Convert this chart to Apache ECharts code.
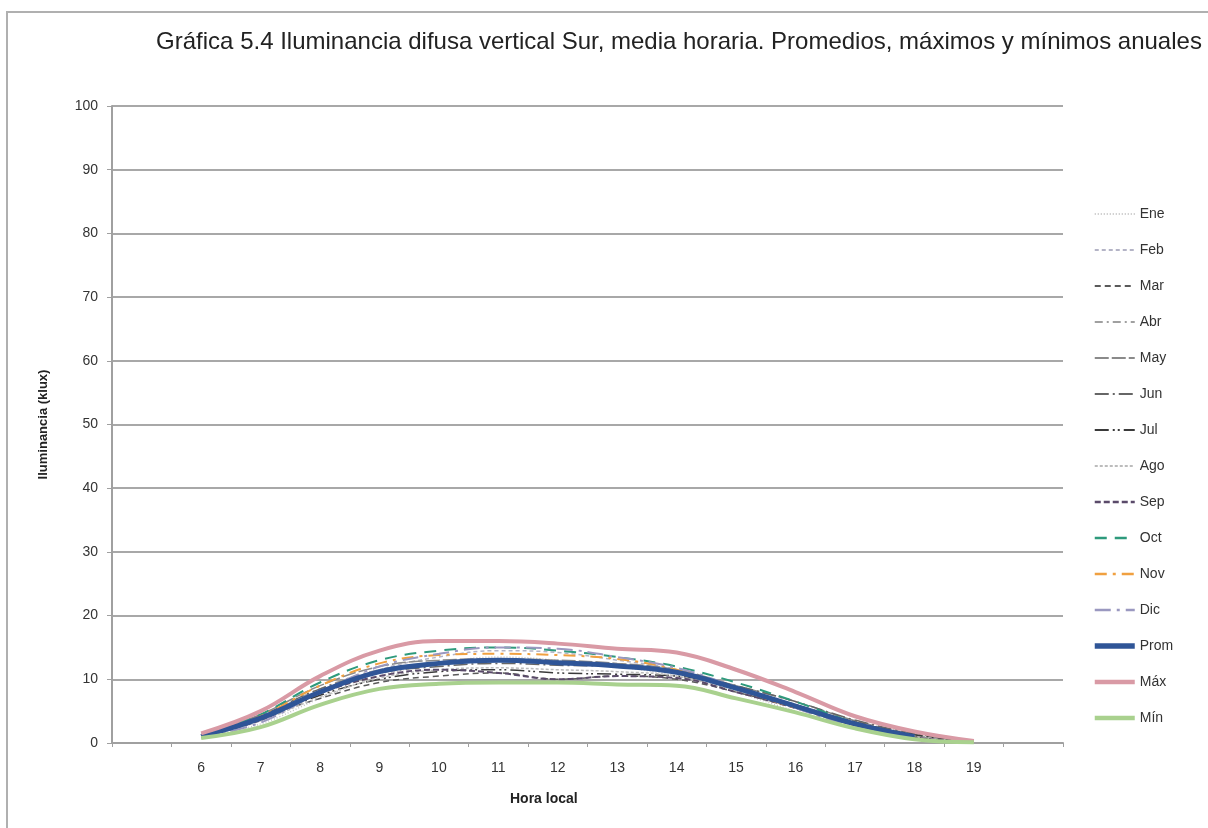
<!DOCTYPE html>
<html>
<head>
<meta charset="utf-8">
<script src="https://cdn.jsdelivr.net/npm/echarts@6/dist/echarts.min.js"></script>
<style>
  html, body { margin: 0; padding: 0; background: #fff; }
  #chart { width: 1208px; height: 828px; }
</style>
</head>
<body>
<div id="chart"></div>
<script>
// hours, with an empty slot on each side like the original axis
const hours = ['', '6', '7', '8', '9', '10', '11', '12', '13', '14', '15', '16', '17', '18', '19', ''];

// values for hours 6..19 (klux)
const ene = [0.9, 3.0, 7.0, 10.5, 12.5, 13.5, 13.0, 12.0, 10.5, 8.0, 5.0, 2.5, 0.8, null];
const feb = [1.0, 3.5, 8.0, 11.5, 13.5, 14.5, 14.2, 13.0, 11.5, 8.5, 5.5, 2.8, 0.9, null];
const mar = [1.1, 4.0, 7.0, 9.5, 10.5, 11.0, 10.0, 10.5, 10.0, 8.0, 5.5, 3.0, 1.0, 0.2];
const abr = [1.2, 4.2, 8.5, 11.5, 12.5, 13.0, 12.5, 12.0, 11.2, 8.8, 6.0, 3.2, 1.2, 0.2];
const may = [1.3, 4.5, 9.0, 12.0, 13.0, 13.2, 13.0, 12.5, 11.5, 9.0, 6.5, 3.5, 1.4, 0.3];
const jun = [1.2, 4.3, 8.5, 11.0, 12.0, 12.5, 12.2, 12.0, 11.2, 9.0, 6.5, 3.6, 1.5, 0.3];
const jul = [1.0, 3.8, 7.5, 10.0, 11.2, 11.5, 11.0, 10.8, 10.5, 8.5, 6.0, 3.3, 1.3, 0.2];
const ago = [1.0, 3.5, 7.2, 10.2, 11.5, 11.8, 11.5, 11.2, 10.5, 8.2, 5.8, 3.0, 1.0, 0.1];
const sep = [1.0, 3.6, 7.8, 10.5, 11.5, 11.0, 10.0, 10.5, 10.2, 8.0, 5.5, 2.8, 0.9, 0.1];
const oct = [1.1, 4.5, 9.5, 13.0, 14.5, 15.0, 14.5, 13.5, 12.0, 9.5, 6.5, 3.2, 1.0, null];
const nov = [1.0, 4.2, 9.0, 12.5, 13.8, 14.0, 13.8, 13.2, 11.5, 8.5, 5.5, 2.8, 0.8, null];
const dic = [0.9, 3.2, 8.0, 12.0, 14.0, 15.0, 14.8, 13.5, 11.8, 8.8, 5.5, 2.5, 0.7, null];
const prom = [1.05, 3.9, 8.0, 11.2, 12.5, 13.0, 12.6, 12.1, 11.1, 8.6, 5.8, 3.0, 1.0, null];
const max = [1.5, 5.0, 10.5, 14.5, 16.0, 16.0, 15.6, 14.8, 14.2, 11.5, 8.0, 4.2, 1.8, 0.3];
const min = [0.8, 2.5, 6.0, 8.5, 9.3, 9.5, 9.5, 9.2, 9.0, 7.0, 4.8, 2.3, 0.6, 0.1];

const pad = (arr) => [null, ...arr, null];

const lines = [
  { name: 'Ene', data: ene, color: '#c4c4c4', width: 1.5, type: [1, 2] },
  { name: 'Feb', data: feb, color: '#b4b4c6', width: 1.5, type: [4, 3] },
  { name: 'Mar', data: mar, color: '#5a5a5a', width: 1.5, type: [6, 4] },
  { name: 'Abr', data: abr, color: '#a0a0a0', width: 1.5, type: [8, 4, 2, 4] },
  { name: 'May', data: may, color: '#8a8a8a', width: 1.5, type: [14, 3] },
  { name: 'Jun', data: jun, color: '#666666', width: 1.5, type: [14, 4, 2, 4] },
  { name: 'Jul', data: jul, color: '#3a3a3a', width: 1.5, type: [14, 4, 2, 3, 2, 4] },
  { name: 'Ago', data: ago, color: '#bcbcbc', width: 1.5, type: [3, 2] },
  { name: 'Sep', data: sep, color: '#5a4a6a', width: 2, type: [6, 3] },
  { name: 'Oct', data: oct, color: '#2e9a7c', width: 2, type: [12, 8] },
  { name: 'Nov', data: nov, color: '#f0a040', width: 2, type: [12, 6, 3, 6] },
  { name: 'Dic', data: dic, color: '#9a98c0', width: 2, type: [16, 6, 3, 6] },
  { name: 'Prom', data: prom, color: '#2f5597', width: 5, type: 'solid' },
  { name: 'Máx', data: max, color: '#d99aa5', width: 4, type: 'solid' },
  { name: 'Mín', data: min, color: '#a9d18e', width: 4, type: 'solid' },
];

const chart = echarts.init(document.getElementById('chart'));

const opts = {
  backgroundColor: '#fff',
  animation: false,
  textStyle: { fontFamily: 'Liberation Sans, Arial, sans-serif' },
  title: {
    text: 'Gráfica 5.4 Iluminancia difusa vertical Sur, media horaria. Promedios, máximos y mínimos anuales',
    left: 674,
    top: 25,
    textAlign: 'center',
    textStyle: {
      fontFamily: 'Liberation Sans, Arial, sans-serif',
      fontSize: 24,
      fontWeight: 'normal',
      color: '#222',
    },
  },
  graphic: [
    {
      type: 'rect',
      shape: { x: 7, y: 12, width: 1230, height: 840 },
      style: { fill: 'none', stroke: '#b0b0b0', lineWidth: 2 },
      silent: true,
    },
    {
      type: 'text',
      left: 510,
      top: 792,
      style: { text: 'Hora local', font: 'bold 14px Liberation Sans, Arial', fill: '#222' },
    },
  ],
  legend: {
    orient: 'vertical',
    left: 1087,
    top: 202,
    itemWidth: 40,
    itemHeight: 14,
    itemGap: 22,
    itemStyle: { opacity: 0 },
    textStyle: { fontSize: 14, color: '#333' },
    data: lines.map((l) => ({
      name: l.name,
      lineStyle: { width: l.width + 0.5 },
    })),
  },
  grid: { left: 112, right: 145, top: 106, bottom: 85, containLabel: false },
  xAxis: {
    type: 'category',
    data: hours,
    boundaryGap: true,
    axisLine: { lineStyle: { color: '#a0a0a0', width: 2 } },
    axisTick: { show: true, length: 4, lineStyle: { color: '#a0a0a0' } },
    axisLabel: { color: '#333', fontSize: 14, margin: 18, interval: 0 },
  },
  yAxis: {
    type: 'value',
    min: 0,
    max: 100,
    interval: 10,
    name: 'Iluminancia (klux)',
    nameLocation: 'middle',
    nameGap: 62,
    nameTextStyle: { fontSize: 13, fontWeight: 'bold', color: '#222' },
    axisLine: { show: true, lineStyle: { color: '#a0a0a0', width: 2 } },
    axisTick: { show: true, length: 5, lineStyle: { color: '#a0a0a0' } },
    axisLabel: { color: '#333', fontSize: 14, margin: 14 },
    splitLine: { lineStyle: { color: '#a8a8a8', width: 2 } },
  },
  series: lines.map((l) => ({
    name: l.name,
    type: 'line',
    data: pad(l.data),
    smooth: 0.4,
    symbol: 'none',
    itemStyle: { color: l.color },
    lineStyle: { color: l.color, width: l.width, type: l.type },
  })),
};

chart.setOption(opts);
</script>
</body>
</html>
